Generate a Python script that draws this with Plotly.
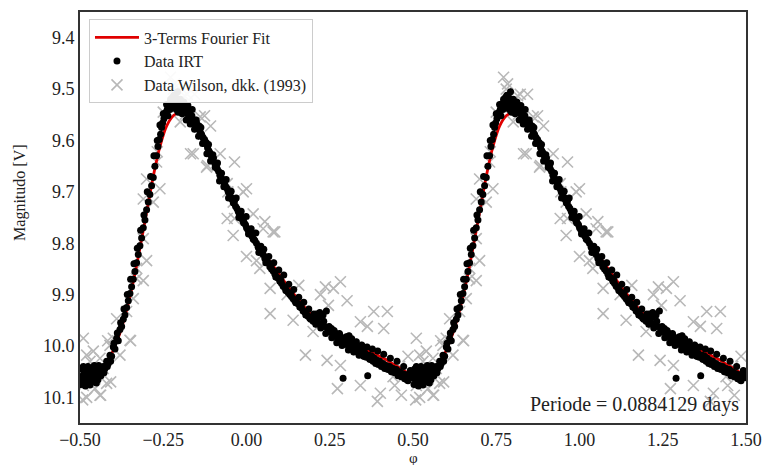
import plotly.graph_objects as go

# ---------------- data (one phase cycle, repeated at +1 as in the folded plot) -------------
fit_phase = [-0.50, -0.48, -0.46, -0.44, -0.42, -0.40, -0.38, -0.36, -0.34, -0.32, -0.30,
             -0.28, -0.26, -0.24, -0.22, -0.20, -0.18, -0.16, -0.14, -0.12, -0.10, -0.08,
             -0.06, -0.04, -0.02, 0.00, 0.02, 0.04, 0.06, 0.08, 0.10, 0.12, 0.14, 0.16,
             0.18, 0.20, 0.22, 0.24, 0.26, 0.28, 0.30, 0.32, 0.34, 0.36, 0.38, 0.40,
             0.42, 0.44, 0.46, 0.48, 0.50]
fit_mag = [10.060, 10.064, 10.063, 10.055, 10.035, 10.008, 9.975, 9.930, 9.875, 9.810, 9.740,
           9.670, 9.612, 9.572, 9.552, 9.544, 9.548, 9.563, 9.584, 9.610, 9.638, 9.666,
           9.690, 9.714, 9.738, 9.762, 9.785, 9.806, 9.826, 9.844, 9.862, 9.880, 9.897, 9.913,
           9.929, 9.943, 9.955, 9.965, 9.975, 9.985, 9.992, 9.998, 10.004, 10.009, 10.014, 10.020,
           10.027, 10.035, 10.043, 10.051, 10.060]

irt_phase = [-0.498, -0.495, -0.492, -0.489, -0.486, -0.483, -0.480, -0.477, -0.474, -0.471,
             -0.468, -0.465, -0.462, -0.459, -0.456, -0.453, -0.450, -0.447, -0.444,
             -0.440, -0.435, -0.430, -0.425, -0.420, -0.415, -0.410, -0.405, -0.400, -0.395,
             -0.390, -0.385, -0.380, -0.375, -0.370, -0.365, -0.360, -0.355, -0.350, -0.345,
             -0.340, -0.335, -0.330, -0.325, -0.320, -0.315, -0.310, -0.305, -0.300, -0.295,
             -0.290, -0.285, -0.280, -0.275, -0.270, -0.266, -0.262, -0.258, -0.255, -0.252,
             -0.248, -0.245, -0.242, -0.238, -0.235, -0.232, -0.228, -0.225, -0.222, -0.219,
             -0.216, -0.213, -0.210, -0.207, -0.204, -0.200, -0.197, -0.194, -0.190, -0.186,
             -0.182, -0.178, -0.175, -0.171, -0.168, -0.164, -0.160, -0.157, -0.153, -0.150,
             -0.146, -0.142, -0.139, -0.135, -0.131, -0.128, -0.124, -0.121, -0.117, -0.113,
             -0.110, -0.106, -0.102, -0.099, -0.095, -0.091, -0.088, -0.084, -0.080, -0.077,
             -0.073, -0.069, -0.066, -0.062, -0.058, -0.055, -0.051, -0.047, -0.044, -0.040,
             -0.036, -0.033, -0.029, -0.025, -0.022, -0.018, -0.014, -0.011, -0.007, -0.003,
             0.000, 0.004, 0.008, 0.012, 0.016, 0.020, 0.025, 0.030, 0.035, 0.040, 0.045,
             0.050, 0.055, 0.060, 0.065, 0.070, 0.075, 0.080, 0.085, 0.090, 0.095, 0.100,
             0.105, 0.110, 0.115, 0.120, 0.125, 0.130, 0.135, 0.140, 0.145, 0.150, 0.155,
             0.160, 0.165, 0.170, 0.175, 0.180, 0.185, 0.190, 0.195, 0.200, 0.205, 0.210,
             0.215, 0.220, 0.225, 0.230, 0.235, 0.240, 0.245, 0.250, 0.255, 0.260, 0.265,
             0.270, 0.275, 0.280, 0.285, 0.290, 0.292, 0.296, 0.300, 0.304, 0.308, 0.312,
             0.316, 0.320, 0.324, 0.328, 0.332, 0.336, 0.340, 0.344, 0.348, 0.352, 0.356,
             0.360, 0.364, 0.368, 0.372, 0.376, 0.380, 0.384, 0.388, 0.392, 0.396, 0.400,
             0.405, 0.410, 0.415, 0.420, 0.425, 0.430, 0.435, 0.440, 0.445, 0.450, 0.455,
             0.460, 0.465, 0.470, 0.475, 0.480, 0.485, 0.490, 0.495, 0.500,
             # second, looser set of IRT nights
             -0.497, -0.490, -0.484, -0.476, -0.470, -0.463, -0.457, -0.451, -0.446, -0.437,
             -0.428, -0.418, -0.408, -0.398, -0.388, -0.378, -0.368, -0.358, -0.348, -0.338,
             -0.328, -0.318, -0.308, -0.298, -0.288, -0.278, -0.268, -0.260, -0.250, -0.240,
             -0.236, -0.230, -0.224, -0.218, -0.211, -0.205, -0.199, -0.193, -0.188, -0.181,
             -0.176, -0.169, -0.163, -0.156, -0.151, -0.144, -0.137, -0.132, -0.126, -0.119,
             -0.114, -0.108, -0.101, -0.094, -0.087, -0.081, -0.075, -0.068, -0.061, -0.054,
             -0.046, -0.039, -0.031, -0.023, -0.016, -0.009, -0.001, 0.006, 0.014, 0.022,
             0.028, 0.037, 0.043, 0.052, 0.058, 0.067, 0.073, 0.082, 0.088, 0.097,
             0.103, 0.112, 0.118, 0.127, 0.133, 0.142, 0.148, 0.157, 0.163, 0.172,
             0.178, 0.187, 0.193, 0.202, 0.208, 0.217, 0.223, 0.232, 0.238, 0.248,
             0.256, 0.263, 0.271, 0.279, 0.287, 0.298, 0.306, 0.314, 0.322, 0.330,
             0.338, 0.346, 0.354, 0.362, 0.370, 0.378, 0.386, 0.394, 0.402, 0.412,
             0.422, 0.432, 0.442, 0.452, 0.462, 0.472, 0.482, 0.492]
irt_mag = [10.060, 10.045, 10.070, 10.055, 10.065, 10.050, 10.072, 10.058, 10.048, 10.066,
           10.054, 10.062, 10.045, 10.058, 10.050, 10.064, 10.042, 10.055, 10.038,
           10.048, 10.052, 10.040, 10.044, 10.030, 10.034, 10.018, 10.020, 10.002, 10.006,
           9.985, 9.990, 9.968, 9.962, 9.948, 9.940, 9.925, 9.912, 9.898, 9.885,
           9.870, 9.855, 9.838, 9.822, 9.805, 9.790, 9.770, 9.755, 9.735, 9.720,
           9.705, 9.688, 9.672, 9.650, 9.630, 9.612, 9.598, 9.588, 9.575, 9.566,
           9.558, 9.550, 9.545, 9.540, 9.532, 9.528, 9.520, 9.524, 9.516, 9.530,
           9.522, 9.528, 9.518, 9.505, 9.532, 9.526, 9.535, 9.530, 9.538, 9.534,
           9.544, 9.540, 9.550, 9.548, 9.556, 9.552, 9.562, 9.560, 9.570, 9.566,
           9.576, 9.572, 9.584, 9.588, 9.594, 9.598, 9.606, 9.604, 9.614, 9.620,
           9.624, 9.630, 9.636, 9.634, 9.645, 9.650, 9.655, 9.660, 9.668, 9.664,
           9.675, 9.680, 9.684, 9.690, 9.694, 9.700, 9.703, 9.710, 9.714, 9.720,
           9.718, 9.728, 9.732, 9.738, 9.742, 9.745, 9.752, 9.756, 9.760, 9.764,
           9.770, 9.774, 9.778, 9.782, 9.786, 9.792, 9.795, 9.800, 9.808, 9.812, 9.818,
           9.822, 9.830, 9.834, 9.838, 9.846, 9.850, 9.854, 9.860, 9.866, 9.868, 9.874,
           9.878, 9.884, 9.886, 9.892, 9.896, 9.900, 9.904, 9.908, 9.912, 9.916, 9.918,
           9.924, 9.926, 9.932, 9.934, 9.938, 9.942, 9.946, 9.944, 9.952, 9.950, 9.938,
           9.956, 9.935, 9.960, 9.940, 9.962, 9.932, 9.970, 9.972, 9.966, 9.978, 9.974,
           9.982, 9.985, 9.978, 9.990, 10.063, 9.986, 9.992, 9.982, 9.998, 9.980, 10.002,
           9.986, 10.006, 9.995, 10.008, 10.002, 10.012, 10.006, 10.016, 10.010, 10.020, 10.014,
           10.022, 10.058, 10.018, 10.026, 10.020, 10.030, 10.024, 10.034, 10.028, 10.036, 10.030,
           10.040, 10.034, 10.044, 10.038, 10.046, 10.040, 10.050, 10.044, 10.052, 10.046, 10.058,
           10.050, 10.060, 10.054, 10.064, 10.056, 10.068, 10.058, 10.062, 10.052,
           10.075, 10.040, 10.078, 10.040, 10.076, 10.070, 10.038, 10.072, 10.066, 10.058,
           10.052, 10.040, 10.030, 9.995, 9.975, 9.955, 9.928, 9.900, 9.870, 9.840,
           9.810, 9.775, 9.745, 9.700, 9.670, 9.630, 9.600, 9.570, 9.548, 9.530,
           9.552, 9.540, 9.535, 9.512, 9.540, 9.545, 9.520, 9.548, 9.525, 9.560,
           9.532, 9.568, 9.540, 9.578, 9.560, 9.592, 9.575, 9.606, 9.598, 9.626,
           9.608, 9.640, 9.628, 9.652, 9.644, 9.679, 9.664, 9.690, 9.676, 9.712,
           9.699, 9.722, 9.712, 9.750, 9.738, 9.760, 9.748, 9.782, 9.772, 9.793,
           9.780, 9.818, 9.806, 9.812, 9.838, 9.826, 9.846, 9.838, 9.866, 9.852,
           9.872, 9.862, 9.892, 9.880, 9.898, 9.890, 9.916, 9.905, 9.922, 9.915,
           9.940, 9.928, 9.948, 9.938, 9.958, 9.945, 9.965, 9.952, 9.976, 9.962,
           9.984, 9.970, 9.994, 9.976, 9.999, 9.983, 10.008, 9.990, 10.012, 9.992,
           10.018, 9.998, 10.020, 10.002, 10.026, 10.006, 10.030, 10.010, 10.036, 10.016,
           10.042, 10.024, 10.048, 10.030, 10.058, 10.040, 10.066, 10.048]

wilson_phase = [-0.490, -0.480, -0.460, -0.440, -0.490, -0.480, -0.492, -0.440, -0.420, -0.410,
                -0.380, -0.350, -0.390, -0.360, -0.340, -0.330, -0.310, -0.300, -0.330, -0.310,
                -0.417, -0.400, -0.348, -0.430, -0.408, -0.438, -0.470, -0.455,
                -0.310, -0.280, -0.300, -0.260, -0.270, -0.268, -0.250, -0.228, -0.216, -0.220,
                -0.156, -0.186, -0.178, -0.184, -0.199, -0.139, -0.126, -0.108, -0.160, -0.168,
                -0.079, -0.117, -0.036, -0.120, -0.058, 0.000, -0.010, -0.056, -0.040, -0.058,
                0.020, -0.036, 0.050, 0.080, -0.040, 0.055, 0.085,
                0.000, 0.030, 0.040, 0.071, 0.071, 0.122, 0.140, 0.157, 0.177, 0.200,
                0.222, 0.237, 0.246, 0.261, 0.282, 0.302, 0.242, 0.282, 0.273, 0.342,
                0.363, 0.382, 0.412, 0.423, 0.342, 0.402, 0.393, 0.485, 0.460, 0.445,
                0.465, 0.440]
wilson_mag = [9.985, 10.018, 10.010, 10.024, 10.077, 10.100, 10.105, 10.096, 10.073, 9.999,
              10.018, 9.989, 9.947, 9.933, 9.908, 9.869, 9.873, 9.834, 9.849, 9.791,
              9.990, 9.985, 9.990, 10.044, 10.070, 10.096, 10.030, 10.083,
              9.714, 9.720, 9.675, 9.694, 9.642, 9.622, 9.545, 9.477, 9.490, 9.500,
              9.510, 9.513, 9.510, 9.549, 9.564, 9.554, 9.552, 9.572, 9.626, 9.626,
              9.626, 9.649, 9.642, 9.652, 9.684, 9.694, 9.700, 9.700, 9.720, 9.752,
              9.743, 9.752, 9.772, 9.778, 9.785, 9.758, 9.778,
              9.826, 9.834, 9.849, 9.888, 9.937, 9.900, 9.950, 9.882, 10.018, 9.972,
              9.900, 9.885, 9.921, 9.888, 9.875, 9.912, 10.028, 10.038, 10.083, 9.953,
              9.962, 9.933, 9.966, 9.933, 10.077, 10.092, 10.108, 10.020, 10.040, 10.077,
              10.096, 10.060]

irt_err = 0.006
period_label = "Periode = 0.0884129 days"

x_ticks = [-0.50, -0.25, 0.00, 0.25, 0.50, 0.75, 1.00, 1.25, 1.50]
y_ticks = [9.4, 9.5, 9.6, 9.7, 9.8, 9.9, 10.0, 10.1]

# ---------------- figure ----------------
FONT = "'Liberation Serif', 'Times New Roman', 'DejaVu Serif', 'Noto Serif', Times, serif"
TXT = "#222222"

def two_cycles(ph, vals):
    return list(ph) + [p + 1 for p in ph], list(vals) + list(vals)

wx, wy = two_cycles(wilson_phase, wilson_mag)
fx, fy = two_cycles(fit_phase, fit_mag)
ix, iy = two_cycles(irt_phase, irt_mag)

fig = go.Figure()
fig.add_trace(go.Scatter(
    x=wx, y=wy, mode="markers", name="Data Wilson, dkk. (1993)", legendrank=3,
    marker=dict(symbol="x-thin-open", size=11, color="#b8b8b8",
                line=dict(width=1.6, color="#b8b8b8")),
))
fig.add_trace(go.Scatter(
    x=fx, y=fy, mode="lines", name="3-Terms Fourier Fit", legendrank=1,
    line=dict(color="#e00000", width=2.8, shape="spline", smoothing=0.6),
))
fig.add_trace(go.Scatter(
    x=ix, y=iy, mode="markers", name="Data IRT", legendrank=2,
    marker=dict(symbol="circle", size=7, color="black"),
    error_y=dict(type="constant", value=irt_err, color="black", thickness=1, width=0),
))

fig.add_annotation(
    x=0.992, y=0.012, xref="paper", yref="paper", xanchor="right", yanchor="bottom",
    text=period_label, showarrow=False, font=dict(family=FONT, size=20, color=TXT),
)
fig.add_annotation(
    x=0.5, y=-0.085, xref="paper", yref="paper", xanchor="center", yanchor="middle",
    text="φ", showarrow=False, font=dict(family=FONT, size=15, color=TXT),
)
fig.add_annotation(
    x=-0.09, y=0.56, xref="paper", yref="paper", text="Magnitudo [V]", showarrow=False,
    textangle=-90, xanchor="center", yanchor="middle",
    font=dict(family=FONT, size=16, color=TXT),
)

fig.update_layout(
    width=766, height=465,
    margin=dict(l=80, r=20, t=12, b=42, autoexpand=False),
    paper_bgcolor="white", plot_bgcolor="white",
    font=dict(family=FONT, color=TXT),
    showlegend=True,
    legend=dict(
        x=0.0135, y=0.982, xanchor="left", yanchor="top",
        bgcolor="rgba(255,255,255,0.92)", bordercolor="#cccccc", borderwidth=1,
        font=dict(family=FONT, size=16, color=TXT),
        tracegroupgap=0, itemwidth=44,
    ),
    xaxis=dict(
        range=[-0.5, 1.5], tickvals=x_ticks, tickformat=".2f", automargin=False,
        showgrid=False, zeroline=False, showline=True, mirror=True,
        linecolor="#333333", linewidth=1.6, ticks="", ticklen=0,
        tickfont=dict(family=FONT, size=18, color=TXT),
    ),
    yaxis=dict(
        range=[10.15, 9.35], tickvals=y_ticks, tickformat=".1f", automargin=False,
        showgrid=False, zeroline=False, showline=True, mirror=True,
        linecolor="#333333", linewidth=1.6, ticks="", ticklen=0,
        tickfont=dict(family=FONT, size=18, color=TXT),
    ),
)

fig.write_html(
    "out.html",
    config={"displayModeBar": False},
    post_script="document.body.style.margin='0px'; document.body.style.overflow='hidden';",
)
